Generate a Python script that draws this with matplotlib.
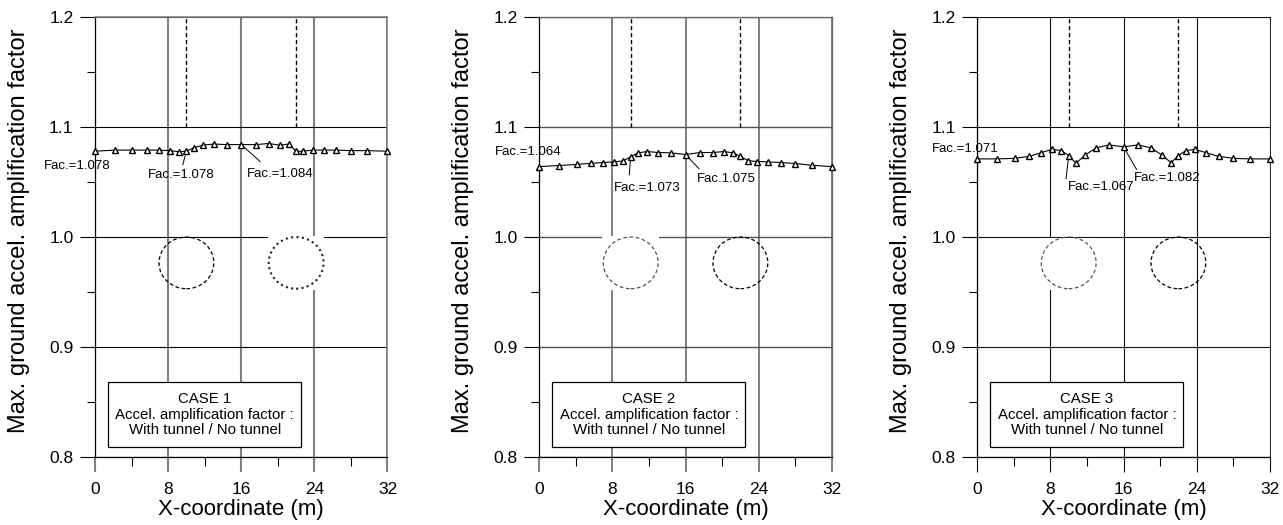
import matplotlib
matplotlib.use("Agg")
import matplotlib.pyplot as plt
from matplotlib.patches import Ellipse, Rectangle
from matplotlib.ticker import MultipleLocator

plt.rcParams["font.family"] = ["Liberation Sans", "DejaVu Sans"]

# Surface nodes along the model (m)
X_NODES = [0.0, 2.2, 4.1, 5.7, 7.0, 8.2, 9.2, 10.0, 10.8, 11.8, 13.0, 14.4, 16.0,
           17.6, 19.0, 20.2, 21.2, 22.0, 22.8, 23.8, 25.0, 26.4, 28.0, 29.8, 32.0]

# Amplification factor (with tunnel / no tunnel) at each surface node
FAC_CASE1 = [1.078, 1.079, 1.079, 1.079, 1.079, 1.0785, 1.0775, 1.078, 1.081, 1.0835,
             1.0845, 1.084, 1.084, 1.084, 1.085, 1.0835, 1.0845, 1.078, 1.078, 1.079,
             1.079, 1.079, 1.0785, 1.0785, 1.078]
FAC_CASE2 = [1.064, 1.065, 1.066, 1.067, 1.0677, 1.0683, 1.0692, 1.073, 1.0765, 1.0777,
             1.0768, 1.0765, 1.075, 1.0768, 1.0768, 1.0777, 1.0765, 1.0734, 1.0695,
             1.0686, 1.0683, 1.0677, 1.0668, 1.0652, 1.064]
FAC_CASE3 = [1.071, 1.071, 1.0715, 1.0733, 1.0767, 1.0797, 1.0785, 1.074, 1.067, 1.0745,
             1.081, 1.0837, 1.082, 1.0837, 1.081, 1.0745, 1.0675, 1.074, 1.0785, 1.0797,
             1.0767, 1.0733, 1.0715, 1.071, 1.071]

CASE_TITLES = ["CASE 1", "CASE 2", "CASE 3"]
BOX_LINES = ["Accel. amplification factor :", "With tunnel / No tunnel"]

# Value labels: (node index, text, text centre x, text centre y, leader end or None)
LABELS_CASE1 = [(0, "Fac.=1.078", -1.9, 1.0648, None),
                (7, "Fac.=1.078", 9.45, 1.0564, (9.6, 1.0655)),
                (12, "Fac.=1.084", 20.26, 1.0573, (18.08, 1.0685))]
LABELS_CASE2 = [(0, "Fac.=1.064", -1.2, 1.0777, None),
                (7, "Fac.=1.073", 11.83, 1.0445, (9.84, 1.0564)),
                (12, "Fac.1.075", 20.49, 1.0527, (17.49, 1.0619))]
LABELS_CASE3 = [(0, "Fac.=1.071", -1.31, 1.0802, None),
                (7, "Fac.=1.067", 13.6, 1.0457, (9.7, 1.0527)),
                (12, "Fac.=1.082", 20.8, 1.0539, (17.43, 1.0613))]

X_TICKS = [0, 8, 16, 24, 32]
Y_TICKS = [0.8, 0.9, 1.0, 1.1, 1.2]

# Tunnel geometry sketch
TUNNEL_X = [10.0, 22.0]
TUNNEL_R = 3.0
TUNNEL_Y = 0.9765
TUNNEL_H = 0.047

series = [FAC_CASE1, FAC_CASE2, FAC_CASE3]
labels = [LABELS_CASE1, LABELS_CASE2, LABELS_CASE3]

# per-panel styling
vgrid_style = [dict(color="#808080", lw=1.5), dict(color="#6a6a6a", lw=1.2), dict(color="#111111", lw=0.8)]
hgrid_style = [dict(color="#000000", lw=0.8), dict(color="#505050", lw=1.0), dict(color="#111111", lw=0.8)]
blank_tunnel = [1, 0, 0]
blank_top = [1.0008, 1.0008, 0.9993]

fig = plt.figure(figsize=(12.83, 5.25), dpi=100)
lefts = [95 / 1283, 539.3 / 1283, 977.3 / 1283]
bottom = 68 / 525
height = 440 / 525
width = 292.5 / 1283

for k in range(3):
    ax = fig.add_axes([lefts[k], bottom, width, height])
    ax.set_xlim(0, 32)
    ax.set_ylim(0.8, 1.2)
    ax.set_axisbelow(True)

    ax.set_xticks(X_TICKS)
    ax.set_xticklabels([str(t) for t in X_TICKS])
    ax.set_yticks(Y_TICKS)
    ax.set_yticklabels([f"{t:.1f}" for t in Y_TICKS])
    ax.xaxis.set_minor_locator(MultipleLocator(4))
    ax.yaxis.set_minor_locator(MultipleLocator(0.05))
    ax.tick_params(axis="x", which="major", direction="out", length=11, width=vgrid_style[k]["lw"],
                   color=vgrid_style[k]["color"], labelsize=12.5, pad=7)
    ax.tick_params(axis="x", which="minor", direction="out", length=6.5, width=0.8, color="black")
    ax.tick_params(axis="y", which="major", direction="out", length=10.5, width=0.8,
                   color="black", labelsize=12.5, pad=5)
    ax.tick_params(axis="y", which="minor", direction="out", length=5.5, width=0.8, color="black")

    ax.xaxis.grid(True, which="major", **vgrid_style[k])
    ax.yaxis.grid(True, which="major", **hgrid_style[k])
    for side in ["left", "bottom"]:
        ax.spines[side].set_color("black")
        ax.spines[side].set_linewidth(0.9)
    for side in ["right", "top"]:
        ax.spines[side].set_color(vgrid_style[k]["color"])
        ax.spines[side].set_linewidth(vgrid_style[k]["lw"] * 0.8)

    # tunnel centre lines above the surface
    ax.vlines(TUNNEL_X, 1.1, 1.2, colors="black", linestyles=(0, (3, 2)), lw=1.0, zorder=2)

    # tunnel outlines
    for j, tx in enumerate(TUNNEL_X):
        if j == blank_tunnel[k]:
            ax.add_patch(Rectangle((tx - TUNNEL_R - 0.1, TUNNEL_Y - TUNNEL_H / 2 - 0.001),
                                   2 * TUNNEL_R + 0.2, blank_top[k] - (TUNNEL_Y - TUNNEL_H / 2 - 0.001),
                                   facecolor="white", edgecolor="none", zorder=1))
            if k == 0:
                ls, lw, col = (0, (1.0, 1.6)), 1.5, "#222222"
            else:
                ls, lw, col = (0, (3, 2)), 0.9, "#555555"
        else:
            ls, lw, col = (0, (3, 2)), 0.9, "black"
        ax.add_patch(Ellipse((tx, TUNNEL_Y), 2 * TUNNEL_R, TUNNEL_H, fill=False,
                             linestyle=ls, lw=lw, edgecolor=col, zorder=2))

    # amplification profile
    ax.plot(X_NODES, series[k], color="black", lw=0.8, marker="^", ms=4.4,
            mfc="white", mec="black", mew=1.0, zorder=3, clip_on=False)

    for idx, txt, tx, ty, lead in labels[k]:
        ax.text(tx, ty, txt, fontsize=9.5, ha="center", va="center", zorder=5, clip_on=False)
        if lead is not None:
            ax.annotate("", xy=(X_NODES[idx], series[k][idx]), xytext=lead,
                        arrowprops=dict(arrowstyle="-", lw=0.7, color="black",
                                        shrinkA=0, shrinkB=3.5), zorder=4)

    # case description box
    ax.add_patch(Rectangle((1.4, 0.8095), 21.1, 0.0585, facecolor="white",
                           edgecolor="black", lw=0.9, zorder=4))
    ax.text(12.0, 0.853, CASE_TITLES[k], fontsize=10.8, ha="center", va="center", zorder=5)
    ax.text(12.0, 0.8385, BOX_LINES[0], fontsize=10.8, ha="center", va="center", zorder=5)
    ax.text(12.0, 0.8245, BOX_LINES[1], fontsize=10.8, ha="center", va="center", zorder=5)

    ax.set_xlabel("X-coordinate (m)", fontsize=16)
    ax.xaxis.set_label_coords(0.5, -0.095)
    ax.set_ylabel("Max. ground accel. amplification factor", fontsize=17)
    ax.yaxis.set_label_coords(-0.222, 0.515)

fig.savefig("out.png", dpi=100)
